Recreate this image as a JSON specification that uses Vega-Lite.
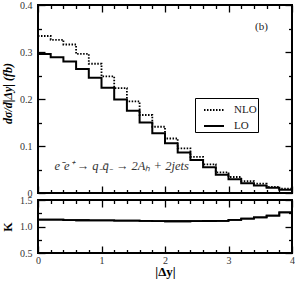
{
  "$schema": "https://vega.github.io/schema/vega-lite/v6.json",
  "padding": {"left": 0, "top": -1, "right": 4, "bottom": 0},
  "spacing": 7,
  "bounds": "flush",
  "config": {
    "view": {"stroke": "black", "strokeWidth": 2},
    "font": "Liberation Serif",
    "axis": {"domain": false, "grid": false, "labelFont": "Liberation Serif", "labelFontSize": 10, "labelColor": "#333", "tickColor": "black", "tickWidth": 1.3, "labelOverlap": false, "labelFlush": false, "titleFont": "Liberation Serif", "titleColor": "black"}
  },
  "datasets": {
    "hist": [
      {"series": "LO", "dy": 0.0, "v": 0.296}, {"series": "LO", "dy": 0.2, "v": 0.289}, {"series": "LO", "dy": 0.4, "v": 0.280}, {"series": "LO", "dy": 0.6, "v": 0.264},
      {"series": "LO", "dy": 0.8, "v": 0.245}, {"series": "LO", "dy": 1.0, "v": 0.224}, {"series": "LO", "dy": 1.2, "v": 0.199}, {"series": "LO", "dy": 1.4, "v": 0.175},
      {"series": "LO", "dy": 1.6, "v": 0.150}, {"series": "LO", "dy": 1.8, "v": 0.127}, {"series": "LO", "dy": 2.0, "v": 0.106}, {"series": "LO", "dy": 2.2, "v": 0.086},
      {"series": "LO", "dy": 2.4, "v": 0.070}, {"series": "LO", "dy": 2.6, "v": 0.055}, {"series": "LO", "dy": 2.8, "v": 0.039}, {"series": "LO", "dy": 3.0, "v": 0.029},
      {"series": "LO", "dy": 3.2, "v": 0.021}, {"series": "LO", "dy": 3.4, "v": 0.016}, {"series": "LO", "dy": 3.6, "v": 0.011}, {"series": "LO", "dy": 3.8, "v": 0.007},
      {"series": "LO", "dy": 4.0, "v": 0.007},
      {"series": "NLO", "dy": 0.0, "v": 0.334}, {"series": "NLO", "dy": 0.2, "v": 0.326}, {"series": "NLO", "dy": 0.4, "v": 0.316}, {"series": "NLO", "dy": 0.6, "v": 0.296},
      {"series": "NLO", "dy": 0.8, "v": 0.275}, {"series": "NLO", "dy": 1.0, "v": 0.248}, {"series": "NLO", "dy": 1.2, "v": 0.223}, {"series": "NLO", "dy": 1.4, "v": 0.195},
      {"series": "NLO", "dy": 1.6, "v": 0.166}, {"series": "NLO", "dy": 1.8, "v": 0.141}, {"series": "NLO", "dy": 2.0, "v": 0.116}, {"series": "NLO", "dy": 2.2, "v": 0.095},
      {"series": "NLO", "dy": 2.4, "v": 0.077}, {"series": "NLO", "dy": 2.6, "v": 0.061}, {"series": "NLO", "dy": 2.8, "v": 0.044}, {"series": "NLO", "dy": 3.0, "v": 0.034},
      {"series": "NLO", "dy": 3.2, "v": 0.025}, {"series": "NLO", "dy": 3.4, "v": 0.020}, {"series": "NLO", "dy": 3.6, "v": 0.013}, {"series": "NLO", "dy": 3.8, "v": 0.009},
      {"series": "NLO", "dy": 4.0, "v": 0.009}
    ],
    "kfac": [
      {"dy": 0.0, "k": 1.131}, {"dy": 0.2, "k": 1.130}, {"dy": 0.4, "k": 1.120}, {"dy": 0.6, "k": 1.118}, {"dy": 0.8, "k": 1.117},
      {"dy": 1.0, "k": 1.116}, {"dy": 1.2, "k": 1.110}, {"dy": 1.4, "k": 1.109}, {"dy": 1.6, "k": 1.107}, {"dy": 1.8, "k": 1.101},
      {"dy": 2.0, "k": 1.099}, {"dy": 2.2, "k": 1.099}, {"dy": 2.4, "k": 1.100}, {"dy": 2.6, "k": 1.104}, {"dy": 2.8, "k": 1.107},
      {"dy": 3.0, "k": 1.125}, {"dy": 3.2, "k": 1.150}, {"dy": 3.4, "k": 1.174}, {"dy": 3.6, "k": 1.206}, {"dy": 3.8, "k": 1.268},
      {"dy": 4.0, "k": 1.268}
    ],
    "labels": [
      {"lx": 3.52, "ly": 0.353, "txt": "(b)"}
    ],
    "process": [
      {"lx": 0.26, "ly": 0.057, "txt": "e⁻e⁺ → q₋q̄₋ → 2Aₕ + 2jets"}
    ]
  },
  "vconcat": [
    {
      "width": 254,
      "height": 188,
      "layer": [
        {
          "data": {"name": "hist"},
          "mark": {"type": "line", "interpolate": "step-after", "color": "black"},
          "encoding": {
            "x": {"field": "dy", "type": "quantitative", "scale": {"domain": [0, 4], "nice": false},
              "axis": {"orient": "bottom", "title": null, "labels": false, "values": [0,0.2,0.4,0.6,0.8,1,1.2,1.4,1.6,1.8,2,2.2,2.4,2.6,2.8,3,3.2,3.4,3.6,3.8,4],
                "tickSize": {"condition": {"test": "abs(datum.value - round(datum.value)) < 1e-6", "value": -7}, "value": -3.5}}},
            "y": {"field": "v", "type": "quantitative", "scale": {"domain": [0, 0.4], "nice": false},
              "axis": {"orient": "left", "title": "dσ/d|Δy| (fb)", "titleFontSize": 12, "titleFontWeight": "bold", "titleFontStyle": "italic", "titlePadding": 5, "titleY": 88,
                "values": [0,0.05,0.1,0.15,0.2,0.25,0.3,0.35,0.4],
                "labelExpr": "abs(datum.value*10 - round(datum.value*10)) < 1e-6 ? (datum.value == 0 ? '0' : format(datum.value, '.1f')) : ''",
                "tickSize": {"condition": {"test": "abs(datum.value*10 - round(datum.value*10)) < 1e-6", "value": -7}, "value": -3.5},
                "labelPadding": 13}},
            "strokeDash": {"field": "series", "type": "nominal", "scale": {"domain": ["NLO", "LO"], "range": [[1.5, 1.5], [1, 0]]},
              "legend": {"title": null, "orient": "none", "legendX": 157, "legendY": 93, "strokeColor": "black", "padding": 1,
                "symbolType": "stroke", "symbolSize": 400, "symbolStrokeColor": "black", "symbolOffset": 7, "labelFontSize": 11, "labelColor": "#222", "labelFont": "Liberation Serif",
                "rowPadding": -11, "labelOffset": 9, "labelExpr": "datum.label + '\u00a0\u00a0\u00a0\u00a0\u00a0\u00a0\u00a0'"}},
            "strokeWidth": {"field": "series", "type": "nominal", "scale": {"domain": ["NLO", "LO"], "range": [1.8, 2]}, "legend": null}
          }
        },
        {
          "data": {"name": "labels"},
          "mark": {"type": "text", "fontSize": 11, "color": "#222", "font": "Liberation Serif"},
          "encoding": {
            "x": {"field": "lx", "type": "quantitative", "scale": {"domain": [0, 4], "nice": false},
              "axis": {"orient": "top", "title": null, "labels": false, "values": [0,0.2,0.4,0.6,0.8,1,1.2,1.4,1.6,1.8,2,2.2,2.4,2.6,2.8,3,3.2,3.4,3.6,3.8,4],
                "tickSize": {"condition": {"test": "abs(datum.value - round(datum.value)) < 1e-6", "value": -7}, "value": -3.5}}},
            "y": {"field": "ly", "type": "quantitative", "scale": {"domain": [0, 0.4], "nice": false},
              "axis": {"orient": "right", "title": null, "labels": false, "values": [0,0.05,0.1,0.15,0.2,0.25,0.3,0.35,0.4],
                "tickSize": {"condition": {"test": "abs(datum.value*10 - round(datum.value*10)) < 1e-6", "value": -7}, "value": -3.5}}},
            "text": {"field": "txt"}
          }
        },
        {
          "data": {"name": "process"},
          "mark": {"type": "text", "fontSize": 12.5, "fontStyle": "italic", "color": "#333", "align": "left", "font": "Liberation Serif"},
          "encoding": {
            "x": {"field": "lx", "type": "quantitative", "axis": null},
            "y": {"field": "ly", "type": "quantitative", "axis": null},
            "text": {"field": "txt"}
          }
        }
      ],
      "resolve": {"axis": {"x": "independent", "y": "independent"}}
    },
    {
      "width": 254,
      "height": 53,
      "layer": [
        {
          "data": {"name": "kfac"},
          "mark": {"type": "line", "interpolate": "step-after", "color": "black", "strokeWidth": 1.8},
          "encoding": {
            "x": {"field": "dy", "type": "quantitative", "scale": {"domain": [0, 4], "nice": false},
              "axis": {"orient": "bottom", "title": "|Δy|", "titleFontSize": 13, "titleFontWeight": "bold", "titlePadding": -3,
                "values": [0,0.2,0.4,0.6,0.8,1,1.2,1.4,1.6,1.8,2,2.2,2.4,2.6,2.8,3,3.2,3.4,3.6,3.8,4],
                "labelExpr": "abs(datum.value - round(datum.value)) < 1e-6 ? format(datum.value, 'd') : ''",
                "tickSize": {"condition": {"test": "abs(datum.value - round(datum.value)) < 1e-6", "value": -7}, "value": -3.5},
                "labelPadding": 9}},
            "y": {"field": "k", "type": "quantitative", "scale": {"domain": [0.5, 1.5], "nice": false},
              "axis": {"orient": "left", "title": "K", "titleFontSize": 12, "titleFontWeight": "bold", "titlePadding": 5,
                "values": [0.5, 0.75, 1, 1.25, 1.5],
                "labelExpr": "abs(datum.value*2 - round(datum.value*2)) < 1e-6 ? format(datum.value, '.1f') : ''",
                "tickSize": {"condition": {"test": "abs(datum.value*2 - round(datum.value*2)) < 1e-6", "value": -7}, "value": -3.5},
                "labelPadding": 13}}
          }
        },
        {
          "data": {"name": "kfac"},
          "mark": {"type": "line", "interpolate": "step-after", "color": "black", "strokeWidth": 1.8},
          "encoding": {
            "x": {"field": "dy", "type": "quantitative", "scale": {"domain": [0, 4], "nice": false},
              "axis": {"orient": "top", "title": null, "labels": false, "values": [0,0.2,0.4,0.6,0.8,1,1.2,1.4,1.6,1.8,2,2.2,2.4,2.6,2.8,3,3.2,3.4,3.6,3.8,4],
                "tickSize": {"condition": {"test": "abs(datum.value - round(datum.value)) < 1e-6", "value": -7}, "value": -3.5}}},
            "y": {"field": "k", "type": "quantitative", "scale": {"domain": [0.5, 1.5], "nice": false},
              "axis": {"orient": "right", "title": null, "labels": false, "values": [0.5, 0.75, 1, 1.25, 1.5],
                "tickSize": {"condition": {"test": "abs(datum.value*2 - round(datum.value*2)) < 1e-6", "value": -7}, "value": -3.5}}}
          }
        }
      ],
      "resolve": {"axis": {"x": "independent", "y": "independent"}}
    }
  ]
}
